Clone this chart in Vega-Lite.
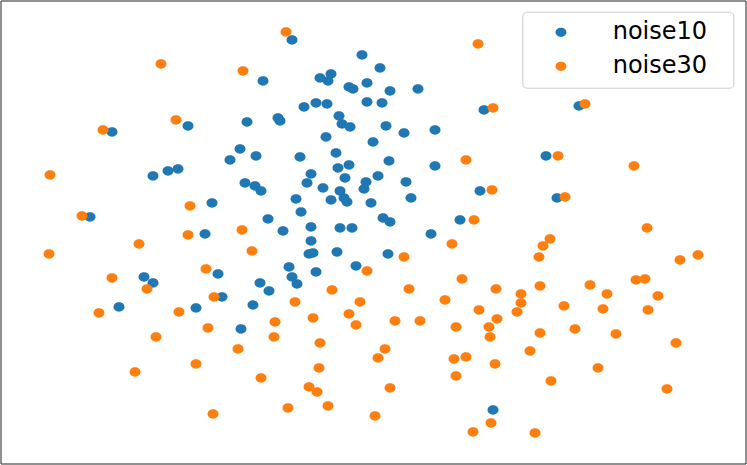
{
  "$schema": "https://vega.github.io/schema/vega-lite/v6.json",
  "width": 745,
  "height": 463,
  "autosize": {"type": "none"},
  "padding": {"left": 0.5, "top": 0.5, "right": 1.5, "bottom": 1.5},
  "background": "white",
  "config": {"view": {"stroke": "#222222", "strokeWidth": 1}},
  "datasets": {
    "pts": [
      {"series": "noise10", "x": 112, "y": 132}, {"series": "noise10", "x": 188, "y": 126}, {"series": "noise10", "x": 247, "y": 122},
      {"series": "noise10", "x": 240, "y": 149}, {"series": "noise10", "x": 230, "y": 160}, {"series": "noise10", "x": 153, "y": 176},
      {"series": "noise10", "x": 168, "y": 171}, {"series": "noise10", "x": 178, "y": 169}, {"series": "noise10", "x": 245, "y": 183},
      {"series": "noise10", "x": 212, "y": 203}, {"series": "noise10", "x": 90, "y": 217}, {"series": "noise10", "x": 205, "y": 234},
      {"series": "noise10", "x": 144, "y": 277}, {"series": "noise10", "x": 153, "y": 283}, {"series": "noise10", "x": 119, "y": 307},
      {"series": "noise10", "x": 218, "y": 274}, {"series": "noise10", "x": 222, "y": 297}, {"series": "noise10", "x": 196, "y": 308},
      {"series": "noise10", "x": 241, "y": 329}, {"series": "noise10", "x": 253, "y": 305},
      {"series": "noise10", "x": 292, "y": 40}, {"series": "noise10", "x": 362, "y": 55}, {"series": "noise10", "x": 380, "y": 68},
      {"series": "noise10", "x": 263, "y": 81}, {"series": "noise10", "x": 320, "y": 78}, {"series": "noise10", "x": 331, "y": 74},
      {"series": "noise10", "x": 328, "y": 81}, {"series": "noise10", "x": 349, "y": 87}, {"series": "noise10", "x": 353, "y": 89},
      {"series": "noise10", "x": 367, "y": 83}, {"series": "noise10", "x": 390, "y": 91}, {"series": "noise10", "x": 418, "y": 89},
      {"series": "noise10", "x": 304, "y": 107}, {"series": "noise10", "x": 316, "y": 103}, {"series": "noise10", "x": 327, "y": 104},
      {"series": "noise10", "x": 367, "y": 102}, {"series": "noise10", "x": 382, "y": 103}, {"series": "noise10", "x": 484, "y": 110},
      {"series": "noise10", "x": 278, "y": 118}, {"series": "noise10", "x": 280, "y": 121}, {"series": "noise10", "x": 339, "y": 116},
      {"series": "noise10", "x": 342, "y": 124}, {"series": "noise10", "x": 350, "y": 127}, {"series": "noise10", "x": 386, "y": 126},
      {"series": "noise10", "x": 404, "y": 133}, {"series": "noise10", "x": 435, "y": 130}, {"series": "noise10", "x": 326, "y": 137},
      {"series": "noise10", "x": 373, "y": 142}, {"series": "noise10", "x": 256, "y": 156}, {"series": "noise10", "x": 300, "y": 157},
      {"series": "noise10", "x": 336, "y": 153}, {"series": "noise10", "x": 389, "y": 161}, {"series": "noise10", "x": 435, "y": 166},
      {"series": "noise10", "x": 338, "y": 168}, {"series": "noise10", "x": 349, "y": 165}, {"series": "noise10", "x": 311, "y": 174},
      {"series": "noise10", "x": 307, "y": 183}, {"series": "noise10", "x": 323, "y": 188}, {"series": "noise10", "x": 345, "y": 178},
      {"series": "noise10", "x": 366, "y": 182}, {"series": "noise10", "x": 364, "y": 189}, {"series": "noise10", "x": 378, "y": 176},
      {"series": "noise10", "x": 406, "y": 182}, {"series": "noise10", "x": 340, "y": 191}, {"series": "noise10", "x": 344, "y": 198},
      {"series": "noise10", "x": 347, "y": 202}, {"series": "noise10", "x": 331, "y": 200}, {"series": "noise10", "x": 296, "y": 199},
      {"series": "noise10", "x": 371, "y": 203}, {"series": "noise10", "x": 411, "y": 198}, {"series": "noise10", "x": 255, "y": 186},
      {"series": "noise10", "x": 261, "y": 191}, {"series": "noise10", "x": 301, "y": 212}, {"series": "noise10", "x": 268, "y": 219},
      {"series": "noise10", "x": 283, "y": 231}, {"series": "noise10", "x": 311, "y": 227}, {"series": "noise10", "x": 340, "y": 228},
      {"series": "noise10", "x": 352, "y": 228}, {"series": "noise10", "x": 383, "y": 218}, {"series": "noise10", "x": 390, "y": 222},
      {"series": "noise10", "x": 431, "y": 234}, {"series": "noise10", "x": 460, "y": 220}, {"series": "noise10", "x": 480, "y": 191},
      {"series": "noise10", "x": 311, "y": 241}, {"series": "noise10", "x": 309, "y": 254}, {"series": "noise10", "x": 313, "y": 253},
      {"series": "noise10", "x": 337, "y": 252}, {"series": "noise10", "x": 388, "y": 254}, {"series": "noise10", "x": 289, "y": 267},
      {"series": "noise10", "x": 356, "y": 266}, {"series": "noise10", "x": 292, "y": 277}, {"series": "noise10", "x": 297, "y": 284},
      {"series": "noise10", "x": 316, "y": 272}, {"series": "noise10", "x": 260, "y": 283}, {"series": "noise10", "x": 269, "y": 291},
      {"series": "noise10", "x": 493, "y": 410}, {"series": "noise10", "x": 579, "y": 106}, {"series": "noise10", "x": 546, "y": 156},
      {"series": "noise10", "x": 557, "y": 198},
      {"series": "noise30", "x": 161, "y": 64}, {"series": "noise30", "x": 243, "y": 71}, {"series": "noise30", "x": 176, "y": 120},
      {"series": "noise30", "x": 103, "y": 130}, {"series": "noise30", "x": 50, "y": 175}, {"series": "noise30", "x": 190, "y": 206},
      {"series": "noise30", "x": 82, "y": 216}, {"series": "noise30", "x": 188, "y": 235}, {"series": "noise30", "x": 242, "y": 230},
      {"series": "noise30", "x": 286, "y": 32}, {"series": "noise30", "x": 478, "y": 44}, {"series": "noise30", "x": 493, "y": 108},
      {"series": "noise30", "x": 466, "y": 160}, {"series": "noise30", "x": 492, "y": 190}, {"series": "noise30", "x": 474, "y": 220},
      {"series": "noise30", "x": 585, "y": 104}, {"series": "noise30", "x": 558, "y": 156}, {"series": "noise30", "x": 634, "y": 166},
      {"series": "noise30", "x": 565, "y": 197}, {"series": "noise30", "x": 647, "y": 228},
      {"series": "noise30", "x": 139, "y": 244}, {"series": "noise30", "x": 49, "y": 254}, {"series": "noise30", "x": 112, "y": 278},
      {"series": "noise30", "x": 147, "y": 289}, {"series": "noise30", "x": 206, "y": 269}, {"series": "noise30", "x": 214, "y": 297},
      {"series": "noise30", "x": 99, "y": 313}, {"series": "noise30", "x": 179, "y": 312}, {"series": "noise30", "x": 208, "y": 328},
      {"series": "noise30", "x": 156, "y": 337}, {"series": "noise30", "x": 238, "y": 349}, {"series": "noise30", "x": 196, "y": 364},
      {"series": "noise30", "x": 135, "y": 372}, {"series": "noise30", "x": 213, "y": 414},
      {"series": "noise30", "x": 252, "y": 251}, {"series": "noise30", "x": 452, "y": 244}, {"series": "noise30", "x": 404, "y": 257},
      {"series": "noise30", "x": 367, "y": 271}, {"series": "noise30", "x": 332, "y": 290}, {"series": "noise30", "x": 409, "y": 289},
      {"series": "noise30", "x": 462, "y": 279}, {"series": "noise30", "x": 496, "y": 289}, {"series": "noise30", "x": 295, "y": 302},
      {"series": "noise30", "x": 360, "y": 302}, {"series": "noise30", "x": 445, "y": 300}, {"series": "noise30", "x": 479, "y": 310},
      {"series": "noise30", "x": 497, "y": 319}, {"series": "noise30", "x": 275, "y": 322}, {"series": "noise30", "x": 313, "y": 318},
      {"series": "noise30", "x": 349, "y": 314}, {"series": "noise30", "x": 356, "y": 325}, {"series": "noise30", "x": 395, "y": 321},
      {"series": "noise30", "x": 420, "y": 321}, {"series": "noise30", "x": 456, "y": 327}, {"series": "noise30", "x": 489, "y": 327},
      {"series": "noise30", "x": 490, "y": 337}, {"series": "noise30", "x": 274, "y": 337}, {"series": "noise30", "x": 320, "y": 343},
      {"series": "noise30", "x": 385, "y": 349}, {"series": "noise30", "x": 378, "y": 358}, {"series": "noise30", "x": 454, "y": 359},
      {"series": "noise30", "x": 466, "y": 357}, {"series": "noise30", "x": 495, "y": 364}, {"series": "noise30", "x": 456, "y": 376},
      {"series": "noise30", "x": 261, "y": 378}, {"series": "noise30", "x": 319, "y": 368}, {"series": "noise30", "x": 309, "y": 387},
      {"series": "noise30", "x": 317, "y": 392}, {"series": "noise30", "x": 390, "y": 388}, {"series": "noise30", "x": 328, "y": 406},
      {"series": "noise30", "x": 288, "y": 408}, {"series": "noise30", "x": 375, "y": 416}, {"series": "noise30", "x": 491, "y": 423},
      {"series": "noise30", "x": 473, "y": 432},
      {"series": "noise30", "x": 550, "y": 239}, {"series": "noise30", "x": 543, "y": 246}, {"series": "noise30", "x": 539, "y": 257},
      {"series": "noise30", "x": 680, "y": 260}, {"series": "noise30", "x": 698, "y": 255}, {"series": "noise30", "x": 540, "y": 286},
      {"series": "noise30", "x": 521, "y": 294}, {"series": "noise30", "x": 521, "y": 303}, {"series": "noise30", "x": 517, "y": 312},
      {"series": "noise30", "x": 590, "y": 285}, {"series": "noise30", "x": 607, "y": 294}, {"series": "noise30", "x": 636, "y": 280},
      {"series": "noise30", "x": 645, "y": 279}, {"series": "noise30", "x": 658, "y": 296}, {"series": "noise30", "x": 564, "y": 306},
      {"series": "noise30", "x": 603, "y": 309}, {"series": "noise30", "x": 648, "y": 310}, {"series": "noise30", "x": 540, "y": 333},
      {"series": "noise30", "x": 575, "y": 329}, {"series": "noise30", "x": 616, "y": 334}, {"series": "noise30", "x": 676, "y": 343},
      {"series": "noise30", "x": 530, "y": 351}, {"series": "noise30", "x": 598, "y": 368}, {"series": "noise30", "x": 551, "y": 381},
      {"series": "noise30", "x": 667, "y": 389}, {"series": "noise30", "x": 535, "y": 433}
    ]
  },
  "data": {"name": "pts"},
  "mark": {
    "type": "point",
    "filled": true,
    "opacity": 1,
    "size": 121,
    "shape": "M-1,0A1,0.845,0,1,0,1,0A1,0.845,0,1,0,-1,0Z"
  },
  "encoding": {
    "x": {"field": "x", "type": "quantitative", "axis": null,
      "scale": {"domain": [0.5, 745.5], "nice": false, "zero": false}},
    "y": {"field": "y", "type": "quantitative", "axis": null,
      "scale": {"domain": [0.5, 463.5], "nice": false, "zero": false, "reverse": true}},
    "color": {
      "field": "series", "type": "nominal",
      "scale": {"domain": ["noise10", "noise30"], "range": ["#1f77b4", "#ff7f0e"]},
      "legend": {
        "title": null,
        "orient": "none",
        "legendX": 521.8,
        "legendY": 11.2,
        "padding": 8.6,
        "rowPadding": 10,
        "labelFont": "DejaVu Sans",
        "labelFontSize": 24,
        "labelColor": "#000000",
        "labelOffset": 39.7,
        "symbolOffset": 18.1,
        "symbolSize": 121,
        "symbolStrokeWidth": 0,
        "symbolType": "M-1,0A1,0.845,0,1,0,1,0A1,0.845,0,1,0,-1,0ZM29.6,0L29.6,0",
        "strokeColor": "#cccccc",
        "fillColor": "rgba(255,255,255,0.8)",
        "cornerRadius": 4
      }
    }
  }
}
